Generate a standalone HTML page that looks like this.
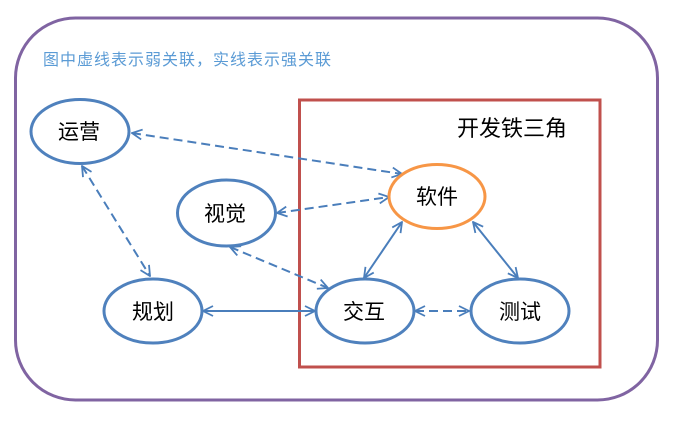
<!DOCTYPE html>
<html><head><meta charset="utf-8"><style>
html,body{margin:0;padding:0;background:#fff;}
svg{display:block;}
text{font-family:"Liberation Sans","Noto Sans CJK SC",sans-serif;}
</style></head><body>
<svg width="676" height="423" viewBox="0 0 676 423" xmlns="http://www.w3.org/2000/svg">
<defs>
<marker id="a" viewBox="0 0 12 12" refX="11" refY="6" markerWidth="12" markerHeight="12" markerUnits="userSpaceOnUse" orient="auto-start-reverse">
<path d="M1,1 L11,6 L1,11" fill="none" stroke="#4a7ebb" stroke-width="1.8"/>
</marker>
</defs>
<rect x="15.5" y="18" width="642" height="382" rx="60" ry="60" fill="none" stroke="#8064a2" stroke-width="3"/>
<text x="43" y="65" font-size="16" letter-spacing="1" fill="#5b9bd5">图中虚线表示弱关联，实线表示强关联</text>
<rect x="299.5" y="100" width="300.5" height="267" fill="none" stroke="#c0504d" stroke-width="3"/>
<text x="457" y="136" font-size="22" fill="#000">开发铁三角</text>

<g stroke="#4a7ebb" stroke-width="2" fill="none">
<line x1="132" y1="133" x2="402" y2="174" stroke-dasharray="9,5" marker-start="url(#a)" marker-end="url(#a)"/>
<line x1="277" y1="213" x2="389" y2="197" stroke-dasharray="9,5" marker-start="url(#a)" marker-end="url(#a)"/>
<line x1="82" y1="166" x2="150" y2="276" stroke-dasharray="9,5" marker-start="url(#a)" marker-end="url(#a)"/>
<line x1="230" y1="247" x2="328" y2="288" stroke-dasharray="9,5" marker-start="url(#a)" marker-end="url(#a)"/>
<line x1="203" y1="311" x2="315" y2="311" marker-start="url(#a)" marker-end="url(#a)"/>
<line x1="415" y1="311" x2="469" y2="311" stroke-dasharray="9,5" marker-start="url(#a)" marker-end="url(#a)"/>
<line x1="402" y1="222" x2="364" y2="278" marker-start="url(#a)" marker-end="url(#a)"/>
<line x1="473" y1="222" x2="518" y2="278" marker-start="url(#a)" marker-end="url(#a)"/>
</g>

<g fill="#fff" stroke="#4f81bd" stroke-width="3">
<ellipse cx="80" cy="131.5" rx="49" ry="32"/>
<ellipse cx="226.5" cy="213" rx="49" ry="33"/>
<ellipse cx="153" cy="311" rx="49" ry="32"/>
<ellipse cx="365" cy="311" rx="49" ry="32"/>
<ellipse cx="520" cy="311" rx="49" ry="32"/>
<ellipse cx="437" cy="196.5" rx="48" ry="32" stroke="#f79646"/>
</g>

<g font-size="21" fill="#000" text-anchor="middle">
<text x="79" y="139">运营</text>
<text x="225" y="221">视觉</text>
<text x="153" y="319">规划</text>
<text x="364" y="319">交互</text>
<text x="520" y="319">测试</text>
<text x="437" y="204">软件</text>
</g>
</svg>
</body></html>
